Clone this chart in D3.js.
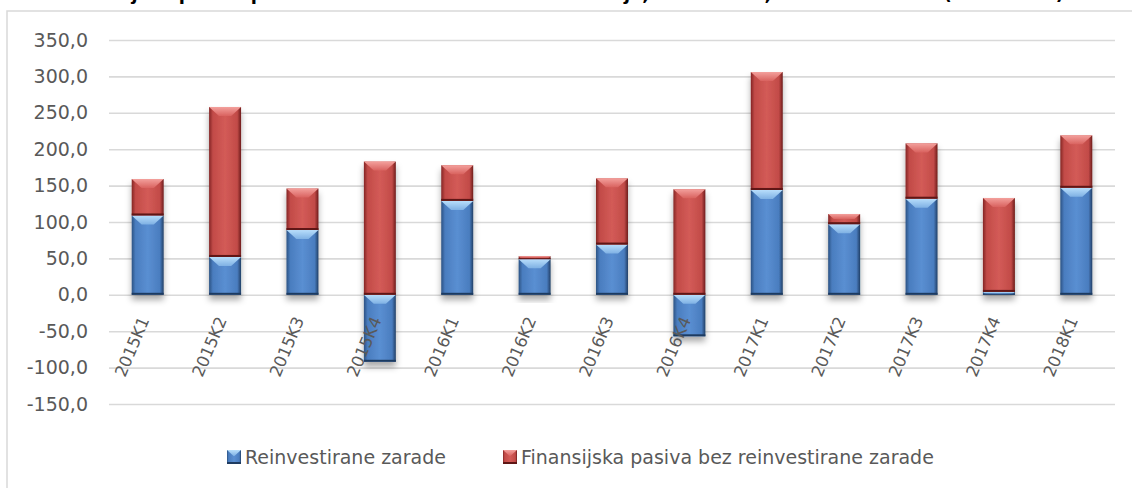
<!DOCTYPE html>
<html>
<head>
<meta charset="utf-8">
<script src="https://cdn.jsdelivr.net/npm/d3@7"></script>
<style>
body { margin: 0; background: #fff; }
text { font-family: "DejaVu Sans", sans-serif; fill: #595959; }
</style>
</head>
<body>
<div id="chart"></div>
<script>
'use strict';

// data (millions)
const categories = ['2015K1', '2015K2', '2015K3', '2015K4', '2016K1', '2016K2', '2016K3',
    '2016K4', '2017K1', '2017K2', '2017K3', '2017K4', '2018K1'];
const reinvestirane = [109, 52, 89, -92, 129, 49, 69, -57, 144, 97, 132, 4, 147];
const finansijska = [50, 206, 57, 183, 49, 4, 91, 145, 162, 14, 76, 129, 72];
const seriesNames = ['Reinvestirane zarade', 'Finansijska pasiva bez reinvestirane zarade'];
const yTicks = [-150, -100, -50, 0, 50, 100, 150, 200, 250, 300, 350];
const title = 'Grafikon 5. Finansijska pasiva po osnovu stranih direktnih investicija, 2015–2018, kvartalni tokovi (u mil. EUR)';

const width = 1132;
const height = 488;
const plot = {left: 109, right: 1115, top: 40, bottom: 404};

const palette = {
    r: {body: ['#2b5283', '#4a7dbf', '#5a8fd2', '#4a7dbf', '#213f66'], top: ['#b8defb', '#7fb1e4'], bottom: '#1f3b60'},
    f: {body: ['#842524', '#c24b48', '#d35b57', '#c24b48', '#6e1c1b'], top: ['#f3a09c', '#d9625f'], bottom: '#5e1615'}
};

const locale = d3.formatLocale({decimal: ',', thousands: '.', grouping: [3], currency: ['', ''], minus: '-'});
const fmt = locale.format('.1f');

const x = d3.scaleBand()
    .domain(categories)
    .range([plot.left, plot.right])
    .paddingInner(0.587)
    .paddingOuter(0.2935);

const y = d3.scaleLinear()
    .domain([-150, 350])
    .range([plot.bottom, plot.top]);

let svg = d3.select('#chart').append('svg')
    .attr('width', width)
    .attr('height', height);

let defs = svg.append('defs');

Object.keys(palette).forEach(k => {
    const p = palette[k];
    let body = defs.append('linearGradient').attr('id', 'body-' + k)
        .attr('x1', 0).attr('x2', 1).attr('y1', 0).attr('y2', 0);
    [0, 0.12, 0.5, 0.88, 1].forEach((o, i) => {
        body.append('stop').attr('offset', o).attr('stop-color', p.body[i]);
    });
    let top = defs.append('linearGradient').attr('id', 'top-' + k)
        .attr('x1', 0).attr('x2', 0).attr('y1', 0).attr('y2', 1);
    top.append('stop').attr('offset', 0).attr('stop-color', p.top[0]);
    top.append('stop').attr('offset', 1).attr('stop-color', p.top[1]);
});

let shadow = defs.append('filter').attr('id', 'shadow')
    .attr('x', '-40%').attr('y', '-20%').attr('width', '180%').attr('height', '140%');
shadow.append('feDropShadow')
    .attr('dx', 0).attr('dy', 5).attr('stdDeviation', 3)
    .attr('flood-color', '#000').attr('flood-opacity', 0.33);

// chart frame (only left and top edges are visible)
svg.append('path')
    .attr('d', 'M7,' + height + 'V11H' + width)
    .attr('fill', 'none')
    .attr('stroke', '#d9d9d9')
    .attr('stroke-width', 1.5);

// title, cut off above the picture as in the source (only descenders show)
svg.append('text')
    .attr('x', 1064)
    .attr('y', 0)
    .attr('text-anchor', 'end')
    .style('font-weight', 'bold')
    .style('font-size', '18px')
    .style('fill', '#000')
    .text(title);

// y axis with gridlines
let yAxis = svg.append('g')
    .attr('transform', 'translate(' + plot.left + ',0)')
    .call(d3.axisLeft(y)
        .tickValues(yTicks)
        .tickSize(-(plot.right - plot.left))
        .tickPadding(21)
        .tickFormat(fmt));

yAxis.select('.domain').remove();
yAxis.selectAll('line')
    .attr('stroke', '#d9d9d9')
    .attr('stroke-width', 1.6);
yAxis.selectAll('text')
    .style('font-size', '19px')
    .style('fill', '#595959');

// stacked bars
const rows = categories.map((c, i) => ({cat: c, r: reinvestirane[i], f: finansijska[i]}));
const stack = d3.stack().keys(['r', 'f']).offset(d3.stackOffsetDiverging);
const layers = stack(rows);

function bevelBox(g, x0, y0, w, h, key, b) {
    const p = palette[key];
    g.append('rect')
        .attr('x', x0).attr('y', y0)
        .attr('width', w).attr('height', h)
        .attr('fill', 'url(#body-' + key + ')');
    const d = Math.min(b, h / 2);
    g.append('path')
        .attr('d', 'M' + x0 + ',' + y0 + 'H' + (x0 + w) +
            'L' + (x0 + w - d * 1.1) + ',' + (y0 + d) +
            'H' + (x0 + d * 1.1) + 'Z')
        .attr('fill', 'url(#top-' + key + ')');
    g.append('rect')
        .attr('x', x0).attr('y', y0 + h - Math.min(2, h / 3))
        .attr('width', w).attr('height', Math.min(2, h / 3))
        .attr('fill', p.bottom);
}

let bars = svg.append('g').attr('class', 'bars');

rows.forEach((row, i) => {
    let g = bars.append('g').attr('filter', 'url(#shadow)');
    layers.forEach(layer => {
        const d = layer[i];
        if (d[0] === d[1]) return;
        const top = Math.min(y(d[0]), y(d[1]));
        const h = Math.abs(y(d[1]) - y(d[0]));
        bevelBox(g, x(row.cat), top, x.bandwidth(), h, layer.key, 9);
    });
});

// category labels, rotated, hanging below the zero line
svg.append('g').selectAll('text')
    .data(categories)
    .enter().append('text')
    .attr('text-anchor', 'end')
    .attr('transform', d => 'translate(' + (x(d) + x.bandwidth() / 2 + 2) + ',' + (y(0) + 25) + ') rotate(-67)')
    .style('font-size', '16.5px')
    .text(d => d);

// legend
const legendItems = [
    {key: 'r', name: seriesNames[0], x: 227},
    {key: 'f', name: seriesNames[1], x: 503}
];

let legend = svg.append('g').attr('class', 'legend');
legendItems.forEach(item => {
    let g = legend.append('g');
    bevelBox(g, item.x, 450, 14, 14, item.key, 6);
    legend.append('text')
        .attr('x', item.x + 18)
        .attr('y', 464)
        .style('font-size', '19px')
        .text(item.name);
});
</script>
</body>
</html>
